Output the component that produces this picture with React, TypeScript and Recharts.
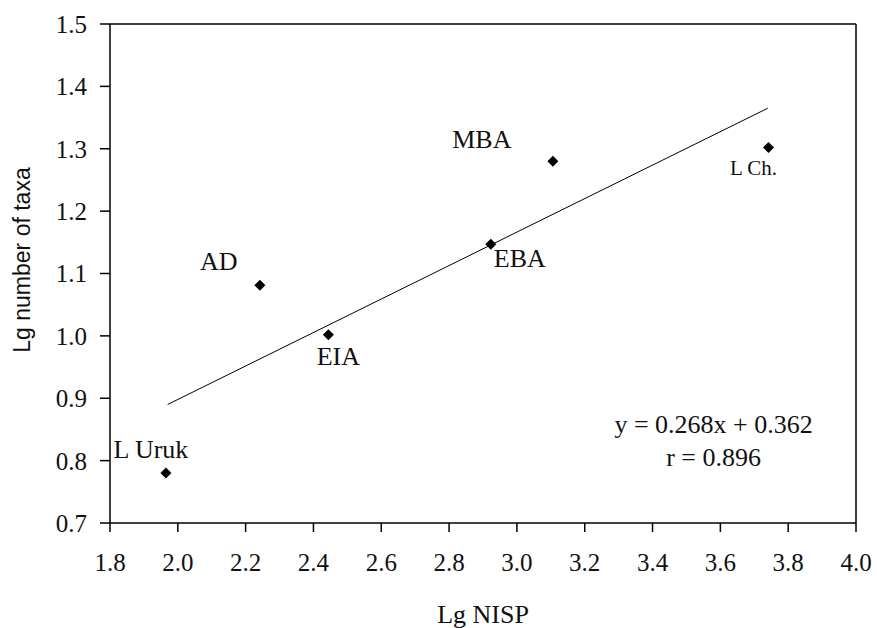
import {
  ScatterChart,
  Scatter,
  XAxis,
  YAxis,
  ReferenceLine,
  ReferenceDot,
  Label,
} from "recharts";

const periods = ["L Uruk", "AD", "EIA", "EBA", "MBA", "L Ch."];
const lgNisp = [1.965, 2.242, 2.444, 2.923, 3.106, 3.742];
const lgTaxa = [0.78, 1.081, 1.002, 1.147, 1.28, 1.302];

const xTicks = [1.8, 2.0, 2.2, 2.4, 2.6, 2.8, 3.0, 3.2, 3.4, 3.6, 3.8, 4.0];
const yTicks = [0.7, 0.8, 0.9, 1.0, 1.1, 1.2, 1.3, 1.4, 1.5];

// regression line end points
const trendEnds = [
  { x: 1.97, y: 0.89 },
  { x: 3.74, y: 1.365 },
];
const equation = ["y = 0.268x + 0.362", "r = 0.896"];

const points = periods.map((name, i) => ({ name, x: lgNisp[i], y: lgTaxa[i] }));

// where each point's label sits relative to the marker
const labelPos: Record<string, { dx: number; dy: number; size: number }> = {
  "L Uruk": { dx: -15, dy: -24, size: 26 },
  AD: { dx: -41, dy: -24, size: 26 },
  EIA: { dx: 10, dy: 22, size: 26 },
  EBA: { dx: 29, dy: 14, size: 26 },
  MBA: { dx: -71, dy: -22, size: 26 },
  "L Ch.": { dx: -15, dy: 20, size: 21 },
};

const serif = "'Liberation Serif', 'Times New Roman', serif";
const ink = "#111";

function Marker(props: any) {
  const { cx, cy, payload } = props;
  const pos = labelPos[payload.name];
  const r = 5.5;
  return (
    <g>
      <path
        d={`M${cx},${cy - r}L${cx + r},${cy}L${cx},${cy + r}L${cx - r},${cy}Z`}
        fill="#000"
      />
      <text
        x={cx + pos.dx}
        y={cy + pos.dy}
        textAnchor="middle"
        dominantBaseline="central"
        fontFamily={serif}
        fontSize={pos.size}
        fill={ink}
      >
        {payload.name}
      </text>
    </g>
  );
}

export default function App() {
  return (
    <div>
      <style>{"body{margin:0}"}</style>
      <ScatterChart
        width={877}
        height={628}
        margin={{ top: 24, right: 21, bottom: 0, left: 0 }}
        style={{ overflow: "visible" }}
      >
        <XAxis
          type="number"
          dataKey="x"
          domain={[1.8, 4.0]}
          ticks={xTicks}
          interval={0}
          tickFormatter={(v: number) => v.toFixed(1)}
          height={105}
          tickSize={9}
          tickMargin={21}
          axisLine={{ stroke: "#000", strokeWidth: 1.5 }}
          tickLine={{ stroke: "#000", strokeWidth: 1.5 }}
          tick={{ fill: ink, fontSize: 25, fontFamily: serif }}
        >
          <Label
            content={(p: any) => (
              <text
                x={p.viewBox.x + p.viewBox.width / 2}
                y={623}
                textAnchor="middle"
                fontFamily={serif}
                fontSize={26}
                fill={ink}
              >
                Lg NISP
              </text>
            )}
          />
        </XAxis>
        <YAxis
          type="number"
          dataKey="y"
          domain={[0.7, 1.5]}
          ticks={yTicks}
          interval={0}
          tickFormatter={(v: number) => v.toFixed(1)}
          width={110}
          tickSize={10}
          tickMargin={13}
          axisLine={{ stroke: "#000", strokeWidth: 1.5 }}
          tickLine={{ stroke: "#000", strokeWidth: 1.5 }}
          tick={{ fill: ink, fontSize: 25, fontFamily: serif }}
        >
          <Label
            content={() => (
              <text
                x={22}
                y={260}
                transform="rotate(-90 22 260)"
                textAnchor="middle"
                dominantBaseline="central"
                fontFamily="'Liberation Sans', Arial, sans-serif"
                fontSize={23}
                fill={ink}
              >
                Lg number of taxa
              </text>
            )}
          />
        </YAxis>
        <ReferenceLine y={1.5} stroke="#000" strokeWidth={1.5} />
        <ReferenceLine x={4.0} stroke="#000" strokeWidth={1.5} />
        <ReferenceLine
          segment={trendEnds}
          stroke="#000"
          strokeWidth={1}
          ifOverflow="extendDomain"
        />
        <ReferenceDot
          x={3.58}
          y={0.835}
          r={0}
          fill="none"
          stroke="none"
          label={(p: any) => {
            const cx = p.viewBox.x + (p.viewBox.width || 0) / 2;
            const cy = p.viewBox.y + (p.viewBox.height || 0) / 2;
            return (
              <g>
                {equation.map((line, i) => (
                  <text
                    key={line}
                    x={cx}
                    y={cy + (i === 0 ? -14 : 19)}
                    textAnchor="middle"
                    dominantBaseline="central"
                    fontFamily={serif}
                    fontSize={26}
                    fill={ink}
                  >
                    {line}
                  </text>
                ))}
              </g>
            );
          }}
        />
        <Scatter data={points} shape={Marker} isAnimationActive={false} />
      </ScatterChart>
    </div>
  );
}
